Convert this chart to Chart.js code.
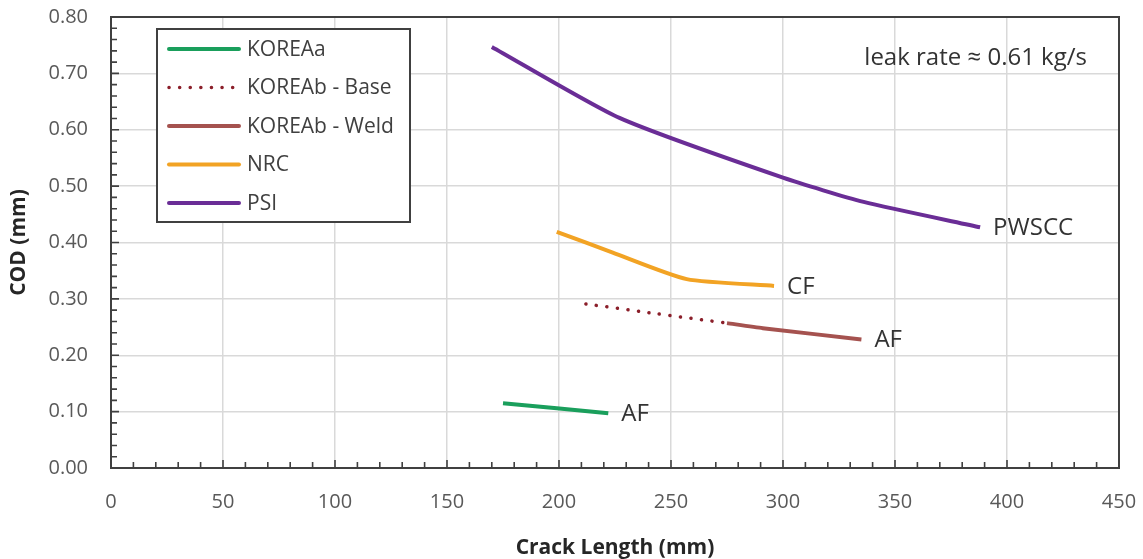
<!DOCTYPE html>
<html>
<head>
<meta charset="utf-8">
<script src="https://cdn.jsdelivr.net/npm/chart.js@4.4.1/dist/chart.umd.min.js"></script>
<style>
  html, body { margin: 0; padding: 0; background: #fff; }
  #wrap { width: 1143px; height: 559px; }
</style>
</head>
<body>
<div id="wrap"><canvas id="codChart" width="1143" height="559"></canvas></div>
<script>
// crack length (mm) and COD (mm) for each model
var koreaA_len = [175, 199, 222];
var koreaA_cod = [0.115, 0.106, 0.097];

var koreaBBase_len = [212, 243, 275];
var koreaBBase_cod = [0.291, 0.274, 0.257];

var koreaBWeld_len = [275, 291, 335];
var koreaBWeld_cod = [0.257, 0.248, 0.228];

var nrc_len = [199, 224, 257, 296];
var nrc_cod = [0.419, 0.382, 0.335, 0.323];

var psi_len = [170, 227, 300, 336, 388];
var psi_cod = [0.747, 0.621, 0.515, 0.472, 0.427];

var seriesNames = ['KOREAa', 'KOREAb - Base', 'KOREAb - Weld', 'NRC', 'PSI'];
// crack type written next to the end of a curve
var endLabels = ['AF', null, 'AF', 'CF', 'PWSCC'];
var leakNote = 'leak rate \u2248 0.61 kg/s';

var xTicks = [0, 50, 100, 150, 200, 250, 300, 350, 400, 450];
var yTicks = [0, 0.1, 0.2, 0.3, 0.4, 0.5, 0.6, 0.7, 0.8];

var FONT = "'Open Sans', 'DejaVu Sans', sans-serif";

function pts(xs, ys) {
    return xs.map(function (x, i) { return { x: x, y: ys[i] }; });
}

var colors = ['#1a9f5c', '#8b1f2a', '#a5524f', '#f2a324', '#6a2d96'];

var datasets = [
    { label: seriesNames[0], data: pts(koreaA_len, koreaA_cod), borderColor: colors[0], borderWidth: 4 },
    { label: seriesNames[1], data: pts(koreaBBase_len, koreaBBase_cod), borderColor: colors[1], borderWidth: 3.5,
      borderDash: [0.1, 10.5], borderCapStyle: 'round' },
    { label: seriesNames[2], data: pts(koreaBWeld_len, koreaBWeld_cod), borderColor: colors[2], borderWidth: 4 },
    { label: seriesNames[3], data: pts(nrc_len, nrc_cod), borderColor: colors[3], borderWidth: 4 },
    { label: seriesNames[4], data: pts(psi_len, psi_cod), borderColor: colors[4], borderWidth: 4 }
];
datasets.forEach(function (d, i) {
    d.showLine = true;
    d.pointRadius = 0;
    d.tension = 0.2;
    d.fill = false;
    d.backgroundColor = d.borderColor;
    d.endLabel = endLabels[i];
});

// keep the plot box where the layout padding puts it
function noLabelPadding(s) {
    s.paddingTop = 0;
    s.paddingBottom = 0;
    s.paddingLeft = 0;
    s.paddingRight = 0;
}

// minor ticks, frame, legend box and text notes
var decorations = {
    id: 'decorations',
    afterDatasetsDraw: function (chart) {
        var ctx = chart.ctx, a = chart.chartArea;
        var xs = chart.scales.x, ys = chart.scales.y;
        ctx.save();

        // frame
        ctx.strokeStyle = '#404040';
        ctx.lineWidth = 2;
        ctx.strokeRect(a.left, a.top, a.right - a.left, a.bottom - a.top);

        // tick marks pointing into the plot
        ctx.lineWidth = 1.6;
        ctx.beginPath();
        for (var v = 10; v < 450; v += 10) {
            var px = xs.getPixelForValue(v);
            var len = (v % 50 === 0) ? 8 : 6;
            ctx.moveTo(px, a.bottom);
            ctx.lineTo(px, a.bottom - len);
        }
        for (var k = 1; k < 40; k++) {
            var py = ys.getPixelForValue(k * 0.02);
            var l2 = (k % 5 === 0) ? 8 : 6;
            ctx.moveTo(a.left, py);
            ctx.lineTo(a.left + l2, py);
        }
        ctx.stroke();

        // labels at curve ends
        ctx.fillStyle = '#333';
        ctx.font = '24px ' + FONT;
        ctx.textBaseline = 'middle';
        ctx.textAlign = 'left';
        chart.data.datasets.forEach(function (d) {
            if (!d.endLabel) return;
            var last = d.data[d.data.length - 1];
            ctx.fillText(d.endLabel, xs.getPixelForValue(last.x) + 13, ys.getPixelForValue(last.y) + 1);
        });

        // leak rate note
        ctx.textAlign = 'right';
        ctx.fillText(leakNote, a.right - 32, a.top + 41);

        // legend
        var bx = a.left + 46, by = a.top + 12, bw = 253, bh = 193;
        ctx.fillStyle = '#fff';
        ctx.fillRect(bx, by, bw, bh);
        ctx.strokeStyle = '#404040';
        ctx.lineWidth = 2;
        ctx.strokeRect(bx, by, bw, bh);
        ctx.font = '21px ' + FONT;
        ctx.textAlign = 'left';
        chart.data.datasets.forEach(function (d, i) {
            var iy = by + 20 + i * 38.5;
            ctx.save();
            ctx.strokeStyle = d.borderColor;
            ctx.lineWidth = d.borderWidth;
            ctx.lineCap = 'round';
            if (d.borderDash) ctx.setLineDash(d.borderDash);
            ctx.beginPath();
            ctx.moveTo(bx + 12, iy);
            ctx.lineTo(bx + 82, iy);
            ctx.stroke();
            ctx.restore();
            ctx.fillStyle = '#404040';
            ctx.fillText(d.label, bx + 90, iy + 1);
        });
        ctx.restore();
    }
};

var ctx = document.getElementById('codChart').getContext('2d');
var chart = new Chart(ctx, {
    type: 'scatter',
    data: { datasets: datasets },
    options: {
        responsive: false,
        animation: false,
        layout: { padding: { top: 17, right: 24, left: 0, bottom: 0 } },
        plugins: { legend: { display: false }, tooltip: { enabled: false } },
        scales: {
            x: {
                type: 'linear',
                min: xTicks[0],
                max: xTicks[xTicks.length - 1],
                afterBuildTicks: function (s) { s.ticks = xTicks.map(function (v) { return { value: v }; }); },
                afterFit: function (s) { s.height = 91; noLabelPadding(s); },
                grid: { color: '#d9d9d9', lineWidth: 1.5, drawTicks: false },
                border: { display: true, color: '#404040', width: 2 },
                ticks: { color: '#595959', font: { family: FONT, size: 20 }, padding: 22 },
                title: {
                    display: true, text: 'Crack Length (mm)', color: '#262626',
                    font: { family: FONT, size: 21, weight: 'bold', lineHeight: 1 },
                    padding: { top: 0, bottom: 0 }
                }
            },
            y: {
                min: yTicks[0],
                max: yTicks[yTicks.length - 1],
                afterBuildTicks: function (s) { s.ticks = yTicks.map(function (v) { return { value: v }; }); },
                afterFit: function (s) { s.width = 111; noLabelPadding(s); },
                grid: { color: '#d9d9d9', lineWidth: 1.5, drawTicks: false },
                border: { display: true, color: '#404040', width: 2 },
                ticks: {
                    color: '#595959', font: { family: FONT, size: 20 }, padding: 23,
                    callback: function (v) { return Number(v).toFixed(2); }
                },
                title: {
                    display: true, text: 'COD (mm)', color: '#262626',
                    font: { family: FONT, size: 21, weight: 'bold', lineHeight: 1 },
                    padding: { top: 9, bottom: 0 }
                }
            }
        }
    },
    plugins: [decorations]
});
</script>
</body>
</html>
